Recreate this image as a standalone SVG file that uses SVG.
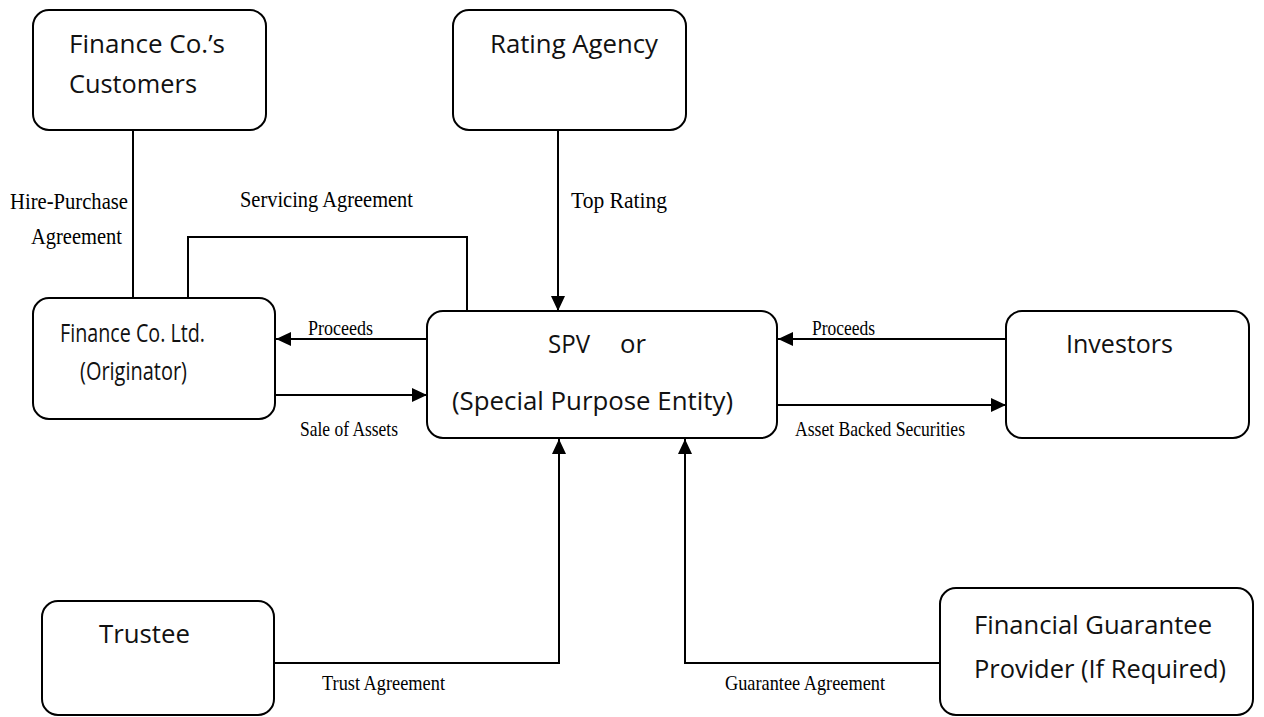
<svg xmlns="http://www.w3.org/2000/svg" width="1264" height="717" viewBox="0 0 1264 717">
<style>
.box{fill:#fff;stroke:#000;stroke-width:2}
.t{font-family:"Open Sans","Noto Sans",sans-serif;font-size:26px;fill:#111}
.l{font-family:"Liberation Serif","Times New Roman",serif;font-size:22px;fill:#000}
.lb{font-size:24px}
.c{fill:none;stroke:#000;stroke-width:2}
</style>
<defs>
<marker id="ah" markerUnits="userSpaceOnUse" markerWidth="16" markerHeight="14" refX="15" refY="7" orient="auto">
<path d="M0,0 L15,7 L0,14 z" fill="#000"/>
</marker>
</defs>
<rect width="1264" height="717" fill="#fff"/>
<g id="connectors">
<path class="c" d="M133 130 V298"/>
<path class="c" d="M188 298 V237 H467 V311"/>
<path class="c" d="M558 130 V311" marker-end="url(#ah)"/>
<path class="c" d="M427 339 H276" marker-end="url(#ah)"/>
<path class="c" d="M275 395 H427" marker-end="url(#ah)"/>
<path class="c" d="M1006 339 H778" marker-end="url(#ah)"/>
<path class="c" d="M777 405 H1006" marker-end="url(#ah)"/>
<path class="c" d="M274 663 H559 V439" marker-end="url(#ah)"/>
<path class="c" d="M940 663 H685 V439" marker-end="url(#ah)"/>
<text class="l lb" x="10" y="209" textLength="118" lengthAdjust="spacingAndGlyphs">Hire-Purchase</text>
<text class="l lb" x="31" y="244" textLength="91" lengthAdjust="spacingAndGlyphs">Agreement</text>
<text class="l lb" x="240" y="207" textLength="173" lengthAdjust="spacingAndGlyphs">Servicing Agreement</text>
<text class="l lb" x="571" y="208" textLength="96" lengthAdjust="spacingAndGlyphs">Top Rating</text>
<text class="l" x="308" y="335" textLength="65" lengthAdjust="spacingAndGlyphs">Proceeds</text>
<text class="l" x="300" y="436" textLength="98" lengthAdjust="spacingAndGlyphs">Sale of Assets</text>
<text class="l" x="812" y="335" textLength="63" lengthAdjust="spacingAndGlyphs">Proceeds</text>
<text class="l" x="795" y="436" textLength="170" lengthAdjust="spacingAndGlyphs">Asset Backed Securities</text>
<text class="l" x="322" y="690" textLength="123" lengthAdjust="spacingAndGlyphs">Trust Agreement</text>
<text class="l" x="725" y="690" textLength="160" lengthAdjust="spacingAndGlyphs">Guarantee Agreement</text>
</g>
<g id="customers">
<rect class="box" x="33" y="10" width="233" height="120" rx="16"/>
<text class="t" x="69" y="53" textLength="156" lengthAdjust="spacingAndGlyphs">Finance Co.’s</text>
<text class="t" x="69" y="93" textLength="128" lengthAdjust="spacingAndGlyphs">Customers</text>
</g>
<g id="rating">
<rect class="box" x="453" y="10" width="233" height="120" rx="16"/>
<text class="t" x="490" y="53" textLength="168" lengthAdjust="spacingAndGlyphs">Rating Agency</text>
</g>
<g id="originator">
<rect class="box" x="33" y="298" width="242" height="121" rx="16"/>
<text class="t" x="60" y="342" textLength="145" lengthAdjust="spacingAndGlyphs">Finance Co. Ltd.</text>
<text class="t" x="80" y="380" textLength="107" lengthAdjust="spacingAndGlyphs">(Originator)</text>
</g>
<g id="spv">
<rect class="box" x="427" y="311" width="350" height="127" rx="16"/>
<text class="t" x="548" y="353" textLength="42" lengthAdjust="spacingAndGlyphs">SPV</text>
<text class="t" x="620" y="353" textLength="26" lengthAdjust="spacingAndGlyphs">or</text>
<text class="t" x="452" y="410" textLength="281" lengthAdjust="spacingAndGlyphs">(Special Purpose Entity)</text>
</g>
<g id="investors">
<rect class="box" x="1006" y="311" width="243" height="127" rx="16"/>
<text class="t" x="1066" y="353" textLength="107" lengthAdjust="spacingAndGlyphs">Investors</text>
</g>
<g id="trustee">
<rect class="box" x="42" y="601" width="232" height="114" rx="16"/>
<text class="t" x="99" y="643" textLength="91" lengthAdjust="spacingAndGlyphs">Trustee</text>
</g>
<g id="guarantor">
<rect class="box" x="940" y="588" width="313" height="127" rx="16"/>
<text class="t" x="974" y="634" textLength="238" lengthAdjust="spacingAndGlyphs">Financial Guarantee</text>
<text class="t" x="974" y="678" textLength="252" lengthAdjust="spacingAndGlyphs">Provider (If Required)</text>
</g>
</svg>
